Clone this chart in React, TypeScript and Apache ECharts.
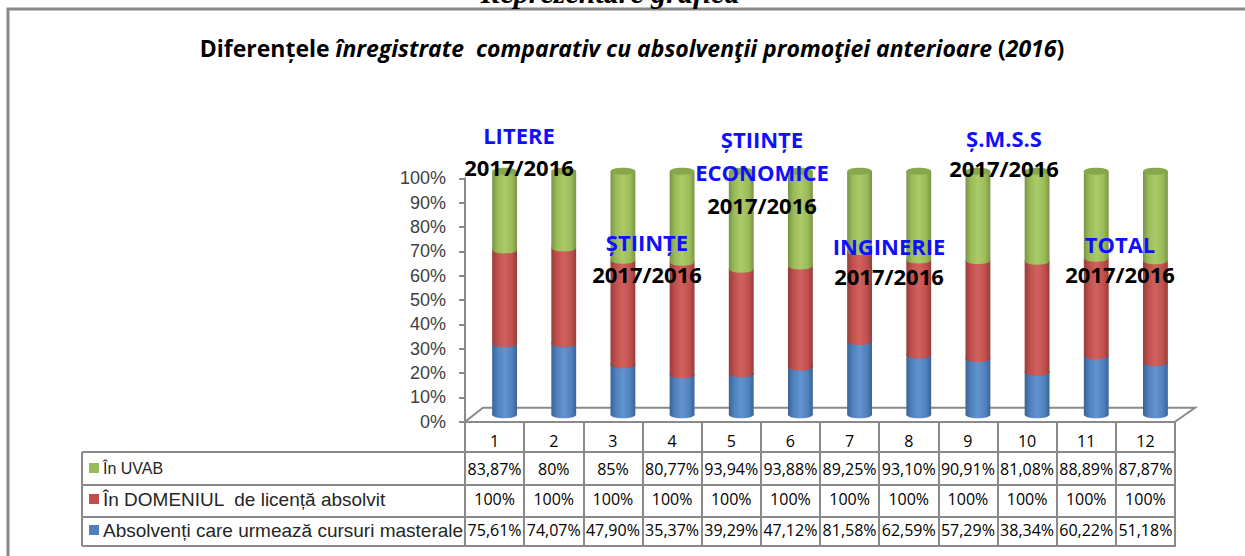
import React, { useEffect, useRef } from "react";
import * as echarts from "echarts";

// ---------- DATA ----------
const categories = ["1", "2", "3", "4", "5", "6", "7", "8", "9", "10", "11", "12"];
const inUvab = [83.87, 80, 85, 80.77, 93.94, 93.88, 89.25, 93.1, 90.91, 81.08, 88.89, 87.87];
const inDomeniu = [100, 100, 100, 100, 100, 100, 100, 100, 100, 100, 100, 100];
const absolventiMaster = [75.61, 74.07, 47.9, 35.37, 39.29, 47.12, 81.58, 62.59, 57.29, 38.34, 60.22, 51.18];
const seriesNames = [
  "În UVAB",
  "În DOMENIUL  de licență absolvit",
  "Absolvenți care urmează cursuri masterale",
];
const groupLabels = [
  ["LITERE", "2017/2016"],
  ["ȘTIINȚE", "2017/2016"],
  ["ȘTIINȚE", "ECONOMICE", "2017/2016"],
  ["INGINERIE", "2017/2016"],
  ["Ș.M.S.S", "2017/2016"],
  ["TOTAL", "2017/2016"],
];
const titleMain = "Diferențele ";
const titleItalic = "înregistrate  comparativ cu absolvenţii promoţiei anterioare ";
const titleYear = "2016";
const headerText = "Reprezentare grafică";

// ---------- LAYOUT / STYLE ----------
const W = 1245;
const H = 556;
const PLOT_LEFT = 465;
const PLOT_RIGHT = 1175;
const AXIS_TOP = 178.3;
const AXIS_BOTTOM = 421.7;
const DX = 10;
const DY = 7;
const LINE = "#8a8a8a";
const TABLE_LEFT = 82;
const ROW_LINES = [452, 485, 517, 546];
const ROW_CENTERS = [469, 500, 531];
const LABEL_MARGINS = [39, 69, 100];
const LEGEND_FONT = [16, 19, 19];
// annotation block centers (x, first line y, line step)
const GROUP_POS = [
  [519, 135, 32],
  [647, 242, 32],
  [762, 139, 33],
  [889, 246, 30],
  [1004, 138, 30],
  [1120, 244, 30],
];
const COLORS = [
  { dark: "#3a6396", base: "#4f81bd", light: "#6494cf", top: "#4a79b2" }, // blue
  { dark: "#983b38", base: "#c0504d", light: "#d0625e", top: "#b44a47" }, // red
  { dark: "#7a9446", base: "#9bbb59", light: "#abcb68", top: "#88a64c" }, // green
];
const KEY_COLORS = ["#9bbb59", "#c0504d", "#4f81bd"];
const BOLD_FONT = "'Open Sans', 'Noto Sans', sans-serif";
const ARIAL = "'Liberation Sans', Arial, sans-serif";

const fmt = (v: number) =>
  (Number.isInteger(v) ? String(v) : v.toFixed(2).replace(".", ",")) + "%";

function grad(c: { dark: string; base: string; light: string }) {
  return new echarts.graphic.LinearGradient(0, 0, 1, 0, [
    { offset: 0, color: c.dark },
    { offset: 0.22, color: c.base },
    { offset: 0.5, color: c.light },
    { offset: 0.8, color: c.base },
    { offset: 1, color: c.dark },
  ]);
}

export default function App() {
  const ref = useRef<HTMLDivElement>(null);
  useEffect(() => {
    document.body.style.margin = "0";
    if (!ref.current) return;
    const chart = echarts.init(ref.current, undefined, { renderer: "svg" });

    // 100% stacked shares: order blue (masterale), red (domeniu), green (uvab)
    const stacks = categories.map((_, i) => {
      const s = absolventiMaster[i] + inDomeniu[i] + inUvab[i];
      const a = (absolventiMaster[i] / s) * 100;
      const b = (inDomeniu[i] / s) * 100;
      return [
        [i, 0, a],
        [i, a, a + b],
        [i, a + b, 100],
      ];
    });

    const makeSeries = (k: number) => ({
      type: "custom",
      name: seriesNames[2 - k],
      xAxisIndex: 0,
      yAxisIndex: 0,
      encode: { x: 0, y: [1, 2] },
      data: stacks.map((s) => s[k]),
      renderItem: (params: any, api: any) => {
        const i = api.value(0);
        const lo = api.value(1);
        const hi = api.value(2);
        const pLo = api.coord([i, lo]);
        const pHi = api.coord([i, hi]);
        const bw = api.size([1, 0])[0] * 0.42;
        const rx = bw / 2;
        const ry = 3.5;
        const cx = pLo[0];
        const c = COLORS[k];
        return {
          type: "group",
          children: [
            { type: "ellipse", shape: { cx, cy: pLo[1], rx, ry }, style: { fill: grad(c) } },
            {
              type: "rect",
              shape: { x: cx - rx, y: pHi[1], width: bw, height: pLo[1] - pHi[1] },
              style: { fill: grad(c) },
            },
            { type: "ellipse", shape: { cx, cy: pHi[1], rx, ry }, style: { fill: c.top } },
          ],
        };
      },
    });

    const tableAxis = (values: number[], margin: number) => ({
      gridIndex: 1,
      type: "category",
      data: categories,
      position: "bottom",
      axisLine: { show: false },
      axisTick: { show: false },
      splitLine: { show: false },
      axisLabel: {
        interval: 0,
        margin,
        fontSize: 16,
        fontFamily: BOLD_FONT,
        color: "#000",
        formatter: (_v: string, idx: number) => fmt(values[idx]),
      },
    });

    const graphics: any[] = [];
    // frame
    graphics.push({
      type: "polyline",
      shape: { points: [[8, H], [8, 9], [W, 9]] },
      style: { stroke: "#888", lineWidth: 3, fill: null },
    });
    // header text (cut off at the top, as in the source page)
    graphics.push({
      type: "text",
      x: 610,
      y: -8,
      style: {
        text: headerText,
        fontFamily: "'Liberation Serif', 'Times New Roman', serif",
        fontWeight: "bold",
        fontStyle: "italic",
        fontSize: 30,
        fill: "#000",
        align: "center",
        verticalAlign: "middle",
      },
    });
    // title
    graphics.push({
      type: "text",
      x: 632,
      y: 48,
      style: {
        text: `{a|${titleMain}}{b|${titleItalic}}{a|(}{b|${titleYear}}{a|)}`,
        align: "center",
        verticalAlign: "middle",
        rich: {
          a: { fontFamily: BOLD_FONT, fontWeight: "bold", fontSize: 23, fill: "#000" },
          b: { fontFamily: BOLD_FONT, fontWeight: "bold", fontStyle: "italic", fontSize: 23, fill: "#000" },
        },
      },
    });
    // floor
    graphics.push({
      type: "polyline",
      z: -1,
      shape: {
        points: [
          [PLOT_LEFT, AXIS_BOTTOM],
          [PLOT_LEFT + 2 * DX - 2, AXIS_BOTTOM - 2 * DY],
          [PLOT_RIGHT + 2 * DX, AXIS_BOTTOM - 2 * DY],
          [PLOT_RIGHT, AXIS_BOTTOM],
        ],
      },
      style: { stroke: LINE, lineWidth: 2, fill: null },
    });
    // table horizontal lines
    ROW_LINES.forEach((y) => {
      graphics.push({
        type: "line",
        shape: { x1: TABLE_LEFT, y1: y, x2: PLOT_RIGHT + 1, y2: y },
        style: { stroke: LINE, lineWidth: 2 },
      });
    });
    graphics.push({
      type: "line",
      shape: { x1: TABLE_LEFT, y1: ROW_LINES[0], x2: TABLE_LEFT, y2: ROW_LINES[3] },
      style: { stroke: LINE, lineWidth: 2 },
    });
    // legend keys + names in table
    seriesNames.forEach((name, r) => {
      const cy = ROW_CENTERS[r] - 1;
      graphics.push({
        type: "rect",
        shape: { x: 89, y: cy - 5, width: 10, height: 10 },
        style: { fill: KEY_COLORS[r] },
      });
      graphics.push({
        type: "text",
        x: 103,
        y: cy,
        style: {
          text: name,
          fontFamily: ARIAL,
          fontSize: LEGEND_FONT[r],
          fill: "#262626",
          align: "left",
          verticalAlign: "middle",
        },
      });
    });
    // group annotations
    groupLabels.forEach((lines, g) => {
      const [x, y0, step] = GROUP_POS[g];
      lines.forEach((t, j) => {
        const isYear = j === lines.length - 1;
        graphics.push({
          type: "text",
          x,
          y: y0 + j * step,
          z: 10,
          style: {
            text: t,
            fontFamily: BOLD_FONT,
            fontWeight: "bold",
            fontSize: 22,
            fill: isYear ? "#000" : "#1010ff",
            align: "center",
            verticalAlign: "middle",
          },
        });
      });
    });

    chart.setOption({
      animation: false,
      grid: [
        {
          left: PLOT_LEFT + DX,
          right: W - (PLOT_RIGHT + DX),
          top: AXIS_TOP - DY,
          bottom: H - (AXIS_BOTTOM - DY),
        },
        { left: PLOT_LEFT, right: W - PLOT_RIGHT, top: AXIS_TOP, bottom: H - AXIS_BOTTOM },
      ],
      xAxis: [
        { gridIndex: 0, type: "category", data: categories, show: false },
        {
          gridIndex: 1,
          type: "category",
          data: categories,
          position: "bottom",
          axisLine: { show: true, lineStyle: { color: LINE, width: 2 } },
          axisTick: { show: true, interval: 0, length: ROW_LINES[3] - AXIS_BOTTOM + 1, lineStyle: { color: LINE, width: 2 } },
          splitLine: { show: false },
          axisLabel: { interval: 0, margin: 11, fontSize: 16, fontFamily: BOLD_FONT, color: "#000" },
        },
        tableAxis(inUvab, LABEL_MARGINS[0]),
        tableAxis(inDomeniu, LABEL_MARGINS[1]),
        tableAxis(absolventiMaster, LABEL_MARGINS[2]),
      ],
      yAxis: [
        { gridIndex: 0, type: "value", min: 0, max: 100, show: false },
        {
          gridIndex: 1,
          type: "value",
          min: 0,
          max: 100,
          interval: 10,
          axisLine: { show: true, lineStyle: { color: LINE, width: 2 } },
          axisTick: { show: true, length: 6, lineStyle: { color: LINE, width: 2 } },
          splitLine: { show: false },
          axisLabel: { formatter: "{value}%", fontSize: 18, fontFamily: ARIAL, color: "#404040", margin: 19 },
        },
      ],
      series: [makeSeries(0), makeSeries(1), makeSeries(2)],
      graphic: graphics,
    });
    return () => chart.dispose();
  }, []);
  return <div ref={ref} style={{ width: W, height: H }} />;
}
